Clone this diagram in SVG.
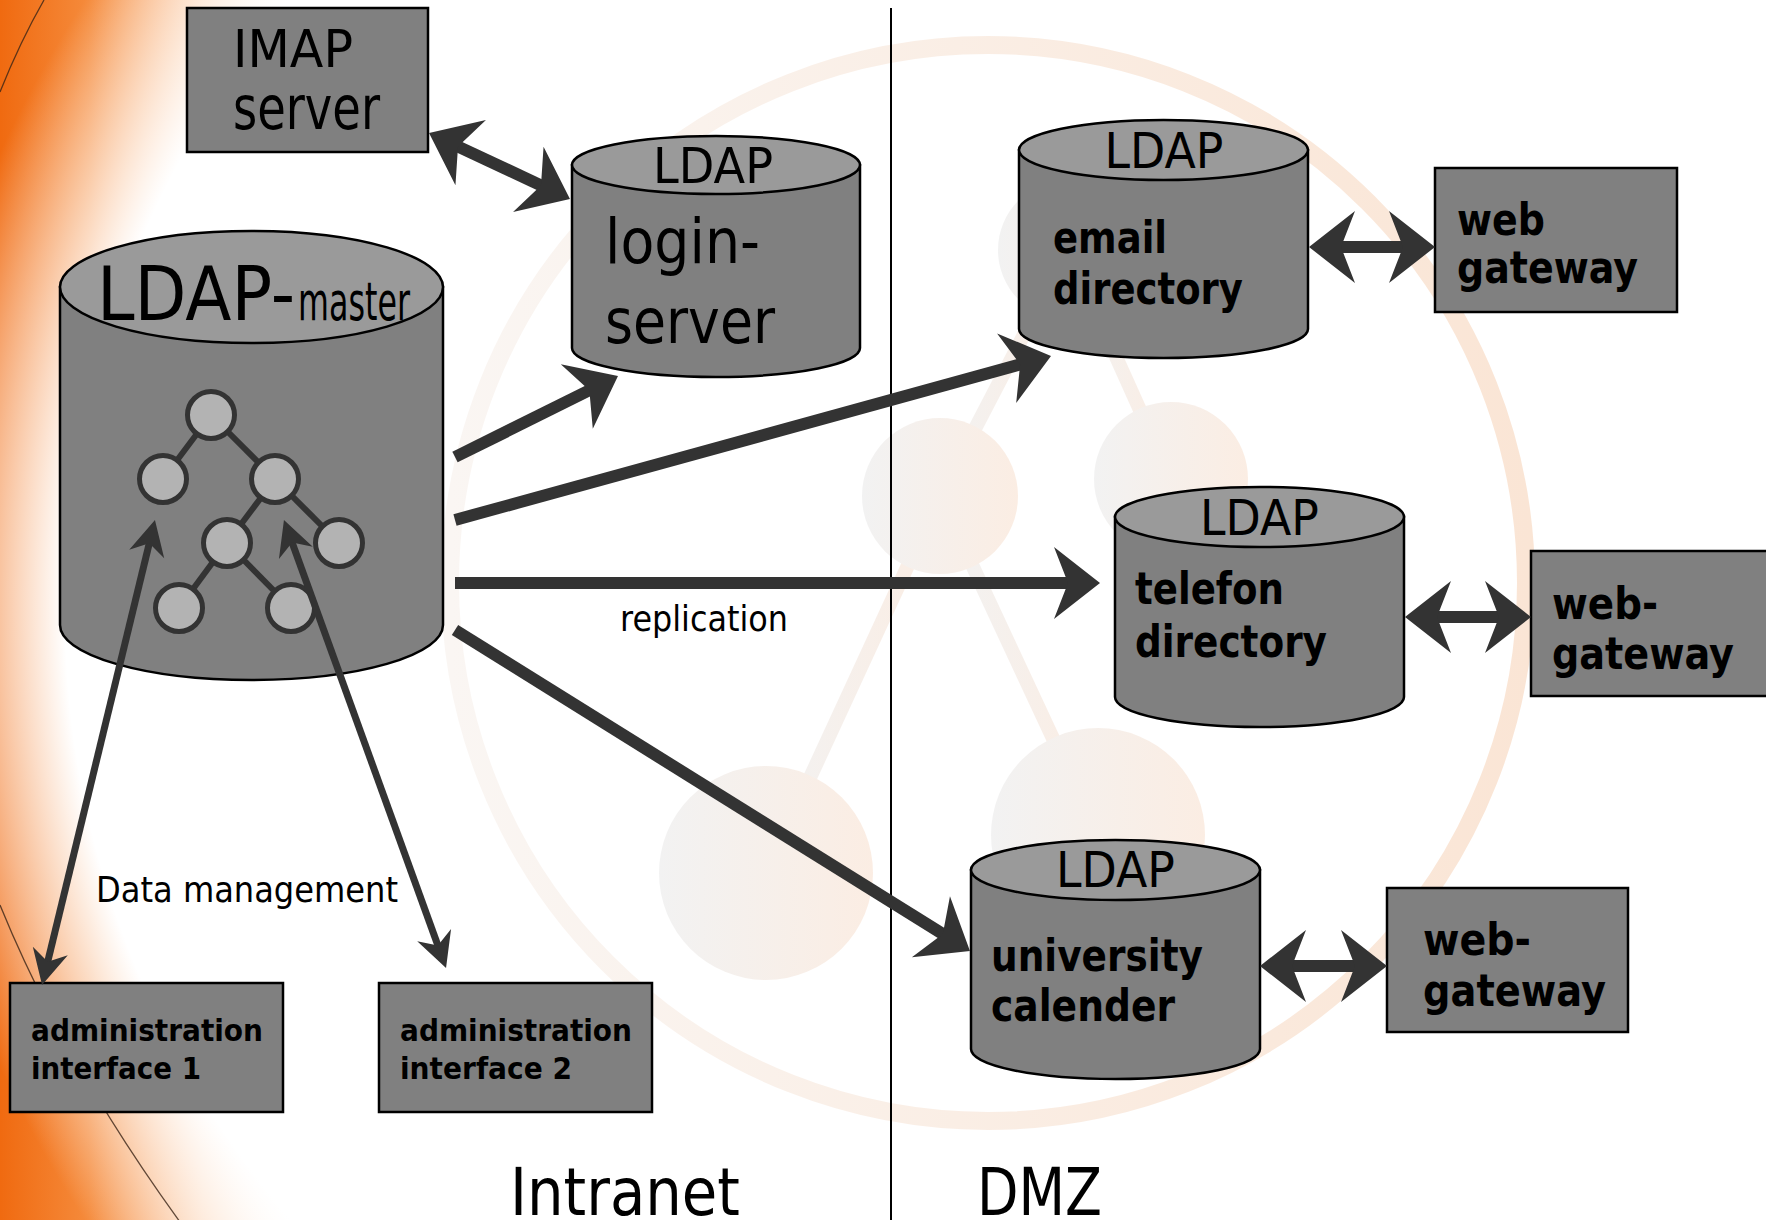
<svg xmlns="http://www.w3.org/2000/svg" width="1766" height="1220" viewBox="0 0 1766 1220">
  <style>
    .box { fill:#808080; stroke:#000; stroke-width:2.5; }
    .body { fill:#808080; stroke:#000; stroke-width:2.5; }
    .lid { fill:#9a9a9a; stroke:#000; stroke-width:2.5; }
    .t { font-family:"DejaVu Sans","Liberation Sans",sans-serif; fill:#000; }
    .ldap { font-size:50px; text-anchor:middle; }
    .lbl { font-size:44px; font-weight:bold; }
    .adm { font-size:30px; font-weight:bold; }
    .note { font-size:35px; }
    .zone { font-size:66px; }
    .big { stroke:#333; stroke-width:12; fill:none; }
    .thin { stroke:#333; stroke-width:7; fill:none; }
    .edge { stroke:#333; stroke-width:6; }
    .leaf { fill:#b3b3b3; stroke:#333; stroke-width:5; }
    .deco { fill:url(#decoFill); }
    .decoLine { stroke:url(#decoFill); stroke-width:14; }
  </style>
  <defs>
    <linearGradient id="orange" gradientUnits="userSpaceOnUse" x1="0" y1="0" x2="450" y2="0">
      <stop offset="0" stop-color="#f06a10"/>
      <stop offset="0.2" stop-color="#f58b3c"/>
      <stop offset="0.45" stop-color="#fcd0ae"/>
      <stop offset="0.7" stop-color="#ffffff"/>
    </linearGradient>
    <radialGradient id="disk" gradientUnits="userSpaceOnUse" cx="1000" cy="610" r="1100">
      <stop offset="0" stop-color="#fff" stop-opacity="1"/>
      <stop offset="0.85" stop-color="#fff" stop-opacity="1"/>
      <stop offset="1" stop-color="#fff" stop-opacity="0"/>
    </radialGradient>
    <linearGradient id="decoFill" x1="0" y1="0" x2="1" y2="0">
      <stop offset="0" stop-color="#f2f2f2"/>
      <stop offset="1" stop-color="#fbede3"/>
    </linearGradient>
    <linearGradient id="ringFill" gradientUnits="userSpaceOnUse" x1="450" y1="0" x2="1530" y2="0">
      <stop offset="0" stop-color="#faf6f3"/>
      <stop offset="1" stop-color="#fae5d5"/>
    </linearGradient>
    <marker id="hd" markerUnits="userSpaceOnUse" markerWidth="100" markerHeight="100" refX="0" refY="0" orient="auto-start-reverse" overflow="visible">
      <path d="M28,0 L-18,-36 L-4,0 L-18,36 Z" fill="#333"/>
    </marker>
    <marker id="hs" markerUnits="userSpaceOnUse" markerWidth="60" markerHeight="60" refX="0" refY="0" orient="auto-start-reverse" overflow="visible">
      <path d="M21,0 L-14,-18 L-3,0 L-14,18 Z" fill="#333"/>
    </marker>
  </defs>

  <!-- backdrop: orange edge, soft white disk, faint network ornament -->
  <g id="backdrop">
    <rect x="0" y="0" width="1766" height="1220" fill="url(#orange)"/>
    <rect x="0" y="0" width="1766" height="1220" fill="url(#disk)"/>
    <path d="M44,0 Q20,42 0,92" fill="none" stroke="#3a2416" stroke-width="1.3" opacity="0.8"/>
    <path d="M0,905 Q64,1062 180,1222" fill="none" stroke="#3a2416" stroke-width="1.3" opacity="0.8"/>
    <circle cx="988" cy="583" r="538" fill="none" stroke="url(#ringFill)" stroke-width="18"/>
    <line class="decoLine" x1="1068" y1="250" x2="940" y2="496"/>
    <line class="decoLine" x1="1068" y1="250" x2="1171" y2="479"/>
    <line class="decoLine" x1="940" y1="496" x2="766" y2="873"/>
    <line class="decoLine" x1="940" y1="496" x2="1098" y2="835"/>
    <circle class="deco" cx="1068" cy="250" r="70"/>
    <circle class="deco" cx="940" cy="496" r="78"/>
    <circle class="deco" cx="1171" cy="479" r="77"/>
    <circle class="deco" cx="766" cy="873" r="107"/>
    <circle class="deco" cx="1098" cy="835" r="107"/>
  </g>

  <!-- zone divider -->
  <line id="divider" x1="891" y1="8" x2="891" y2="1220" stroke="#000" stroke-width="2"/>

  <!-- Intranet -->
  <g id="imap-server">
    <rect class="box" x="187" y="8" width="241" height="144"/>
    <text class="t" x="233" y="67" font-size="52" textLength="120" lengthAdjust="spacingAndGlyphs">IMAP</text>
    <text class="t" x="233" y="129" font-size="60" textLength="147" lengthAdjust="spacingAndGlyphs">server</text>
  </g>

  <g id="ldap-login-server">
    <path class="body" d="M572,165 L572,348 A144,29 0 0 0 860,348 L860,165 Z"/>
    <ellipse class="lid" cx="716" cy="165" rx="144" ry="29"/>
    <text class="t ldap" x="713" y="183" textLength="120" lengthAdjust="spacingAndGlyphs">LDAP</text>
    <text class="t" x="605" y="263" font-size="62" textLength="155" lengthAdjust="spacingAndGlyphs">login-</text>
    <text class="t" x="605" y="343" font-size="62" textLength="170" lengthAdjust="spacingAndGlyphs">server</text>
  </g>

  <g id="ldap-master">
    <path class="body" d="M60,287 L60,625 A191.5,55 0 0 0 443,625 L443,287 Z"/>
    <ellipse class="lid" cx="251.5" cy="287" rx="191.5" ry="56"/>
    <text class="t" x="97" y="320"><tspan font-size="75" textLength="198" lengthAdjust="spacingAndGlyphs">LDAP-</tspan><tspan dx="3" font-size="54" textLength="112" lengthAdjust="spacingAndGlyphs">master</tspan></text>
    <g id="dit">
      <line class="edge" x1="211" y1="415" x2="163" y2="479"/>
      <line class="edge" x1="211" y1="415" x2="275" y2="479"/>
      <line class="edge" x1="275" y1="479" x2="227" y2="543"/>
      <line class="edge" x1="275" y1="479" x2="339" y2="543"/>
      <line class="edge" x1="227" y1="543" x2="179" y2="608"/>
      <line class="edge" x1="227" y1="543" x2="291" y2="608"/>
      <circle class="leaf" cx="211" cy="415" r="23.5"/>
      <circle class="leaf" cx="163" cy="479" r="23.5"/>
      <circle class="leaf" cx="275" cy="479" r="23.5"/>
      <circle class="leaf" cx="227" cy="543" r="23.5"/>
      <circle class="leaf" cx="339" cy="543" r="23.5"/>
      <circle class="leaf" cx="179" cy="608" r="23.5"/>
      <circle class="leaf" cx="291" cy="608" r="23.5"/>
    </g>
  </g>

  <g id="admin-interface-1">
    <rect class="box" x="10" y="983" width="273" height="129"/>
    <text class="t adm" x="31" y="1041" textLength="232" lengthAdjust="spacingAndGlyphs">administration</text>
    <text class="t adm" x="31" y="1079" textLength="170" lengthAdjust="spacingAndGlyphs">interface 1</text>
  </g>

  <g id="admin-interface-2">
    <rect class="box" x="379" y="983" width="273" height="129"/>
    <text class="t adm" x="400" y="1041" textLength="232" lengthAdjust="spacingAndGlyphs">administration</text>
    <text class="t adm" x="400" y="1079" textLength="172" lengthAdjust="spacingAndGlyphs">interface 2</text>
  </g>

  <!-- DMZ -->
  <g id="ldap-email-directory">
    <path class="body" d="M1019,150 L1019,329 A144.5,29 0 0 0 1308,329 L1308,150 Z"/>
    <ellipse class="lid" cx="1163.5" cy="150" rx="144.5" ry="30"/>
    <text class="t ldap" x="1164" y="168" textLength="119" lengthAdjust="spacingAndGlyphs">LDAP</text>
    <text class="t lbl" x="1053" y="253" textLength="114" lengthAdjust="spacingAndGlyphs">email</text>
    <text class="t lbl" x="1053" y="304" textLength="190" lengthAdjust="spacingAndGlyphs">directory</text>
  </g>

  <g id="web-gateway-email">
    <rect class="box" x="1435" y="168" width="242" height="144"/>
    <text class="t lbl" x="1457" y="235" textLength="88" lengthAdjust="spacingAndGlyphs">web</text>
    <text class="t lbl" x="1457" y="283" textLength="181" lengthAdjust="spacingAndGlyphs">gateway</text>
  </g>

  <g id="ldap-telefon-directory">
    <path class="body" d="M1115,517 L1115,697 A144.5,30 0 0 0 1404,697 L1404,517 Z"/>
    <ellipse class="lid" cx="1259.5" cy="517" rx="144.5" ry="30"/>
    <text class="t ldap" x="1259.5" y="535" textLength="119" lengthAdjust="spacingAndGlyphs">LDAP</text>
    <text class="t lbl" x="1135" y="604" textLength="149" lengthAdjust="spacingAndGlyphs">telefon</text>
    <text class="t lbl" x="1135" y="657" textLength="192" lengthAdjust="spacingAndGlyphs">directory</text>
  </g>

  <g id="web-gateway-telefon">
    <rect class="box" x="1531" y="551" width="250" height="145"/>
    <text class="t lbl" x="1552" y="619" textLength="106" lengthAdjust="spacingAndGlyphs">web-</text>
    <text class="t lbl" x="1552" y="669" textLength="182" lengthAdjust="spacingAndGlyphs">gateway</text>
  </g>

  <g id="ldap-university-calender">
    <path class="body" d="M971,870 L971,1049 A144.5,30 0 0 0 1260,1049 L1260,870 Z"/>
    <ellipse class="lid" cx="1115.5" cy="870" rx="144.5" ry="30"/>
    <text class="t ldap" x="1115.5" y="887" textLength="119" lengthAdjust="spacingAndGlyphs">LDAP</text>
    <text class="t lbl" x="991" y="971" textLength="212" lengthAdjust="spacingAndGlyphs">university</text>
    <text class="t lbl" x="991" y="1021" textLength="184" lengthAdjust="spacingAndGlyphs">calender</text>
  </g>

  <g id="web-gateway-calender">
    <rect class="box" x="1387" y="888" width="241" height="144"/>
    <text class="t lbl" x="1423" y="955" textLength="108" lengthAdjust="spacingAndGlyphs">web-</text>
    <text class="t lbl" x="1423" y="1006" textLength="183" lengthAdjust="spacingAndGlyphs">gateway</text>
  </g>

  <!-- connectors -->
  <g id="connectors">
    <line class="big" x1="454.4" y1="144.9" x2="544.6" y2="187.1" marker-start="url(#hd)" marker-end="url(#hd)"/>
    <line class="big" x1="455" y1="457" x2="592.9" y2="388.5" marker-end="url(#hd)"/>
    <line class="big" x1="455" y1="520" x2="1024" y2="363.4" marker-end="url(#hd)"/>
    <line class="big" x1="455" y1="583" x2="1072" y2="583" marker-end="url(#hd)"/>
    <line class="big" x1="455" y1="630" x2="946.2" y2="936.2" marker-end="url(#hd)"/>
    <line class="big" x1="1337" y1="247" x2="1407" y2="247" marker-start="url(#hd)" marker-end="url(#hd)"/>
    <line class="big" x1="1433" y1="617" x2="1503" y2="617" marker-start="url(#hd)" marker-end="url(#hd)"/>
    <line class="big" x1="1288" y1="966" x2="1359" y2="966" marker-start="url(#hd)" marker-end="url(#hd)"/>
    <line class="thin" x1="47" y1="964.6" x2="150" y2="540.4" marker-start="url(#hs)" marker-end="url(#hs)"/>
    <line class="thin" x1="291.1" y1="539.7" x2="438.9" y2="948.3" marker-start="url(#hs)" marker-end="url(#hs)"/>
    <text class="t note" x="620" y="631" textLength="168" lengthAdjust="spacingAndGlyphs">replication</text>
    <text class="t note" x="96" y="902" textLength="302" lengthAdjust="spacingAndGlyphs">Data management</text>
  </g>

  <!-- zone captions -->
  <text id="zone-intranet" class="t zone" x="510" y="1215" textLength="230" lengthAdjust="spacingAndGlyphs">Intranet</text>
  <text id="zone-dmz" class="t zone" x="977" y="1215" textLength="125" lengthAdjust="spacingAndGlyphs">DMZ</text>
</svg>
